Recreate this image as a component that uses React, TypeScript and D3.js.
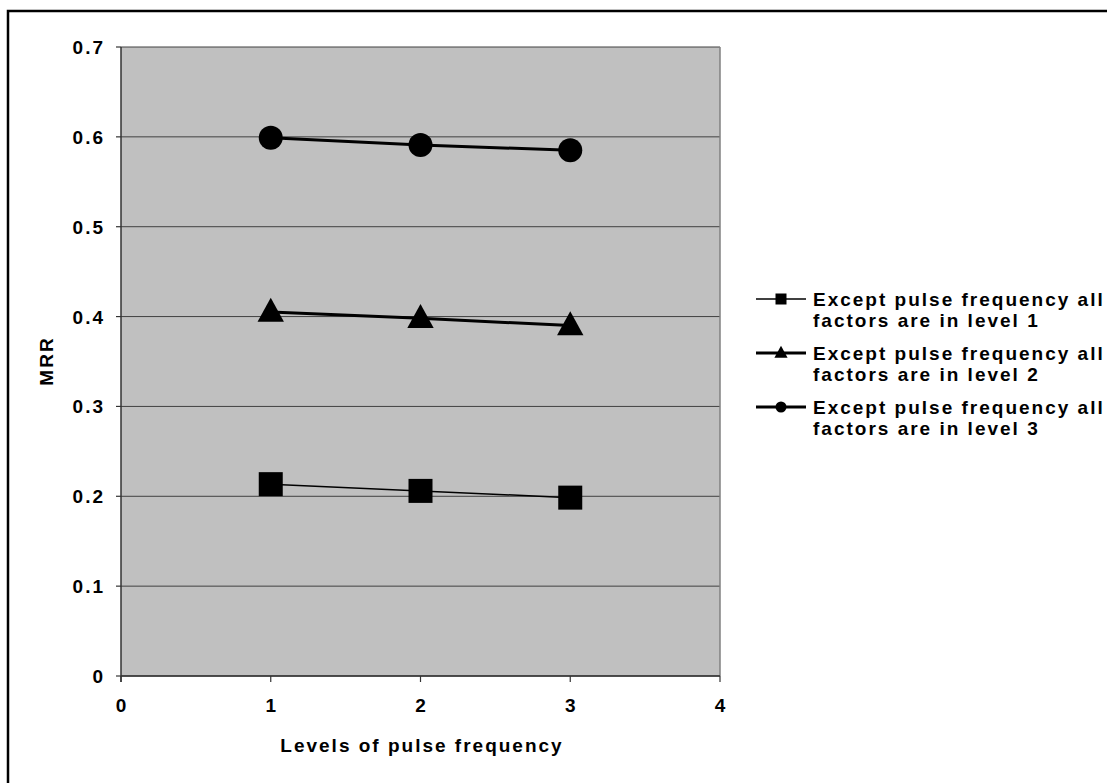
import React from "react";
import * as d3 from "d3";

const levels = [1, 2, 3];
const seriesLabels = [
  ["Except pulse frequency all", "factors are in level 1"],
  ["Except pulse frequency all", "factors are in level 2"],
  ["Except pulse frequency all", "factors are in level 3"],
];
const level1 = [0.2135, 0.206, 0.1985];
const level2 = [0.405, 0.398, 0.39];
const level3 = [0.599, 0.591, 0.585];
const yTicks = [0, 0.1, 0.2, 0.3, 0.4, 0.5, 0.6, 0.7];
const xTicks = [0, 1, 2, 3, 4];

const W = 1107;
const H = 783;
const plot = { left: 121, right: 720, top: 47, bottom: 676 };
const font = "'Liberation Sans', Arial, sans-serif";
const FS = 19;
const LS = 2;

function Marker({ kind, x, y, s }: { kind: string; x: number; y: number; s: number }) {
  if (kind === "square") return <rect x={x - s / 2} y={y - s / 2} width={s} height={s} fill="#000" />;
  if (kind === "circle") return <circle cx={x} cy={y} r={s / 2} fill="#000" />;
  const h = s;
  return (
    <path
      d={`M${x},${y - h * 0.6} L${x + s * 0.55},${y + h * 0.4} L${x - s * 0.55},${y + h * 0.4} Z`}
      fill="#000"
    />
  );
}

export default function App() {
  const x = d3.scaleLinear().domain([0, 4]).range([plot.left, plot.right]);
  const y = d3.scaleLinear().domain([0, 0.7]).range([plot.bottom, plot.top]);
  const line = d3
    .line<number>()
    .x((_, i) => x(levels[i]))
    .y((d) => y(d));

  const series = [
    { data: level1, kind: "square", width: 1.5, lsize: 11 },
    { data: level2, kind: "triangle", width: 3, lsize: 12 },
    { data: level3, kind: "circle", width: 3, lsize: 11 },
  ];
  const legendY = [299, 353, 407];
  const txt = { fontSize: FS, fontWeight: "bold" as const, letterSpacing: LS };

  return (
    <svg
      width={W}
      height={H}
      style={{ position: "absolute", left: 0, top: 0, background: "#fff" }}
      fontFamily={font}
    >
      <rect x={0} y={0} width={W} height={H} fill="#fff" />
      <rect x={8} y={11} width={W + 20} height={H + 20} fill="none" stroke="#000" strokeWidth={2.5} />
      <rect
        x={plot.left}
        y={plot.top}
        width={plot.right - plot.left}
        height={plot.bottom - plot.top}
        fill="#c0c0c0"
      />
      {yTicks.map((t) => (
        <line key={"g" + t} x1={plot.left} x2={plot.right} y1={y(t)} y2={y(t)} stroke="#404040" strokeWidth={1} />
      ))}
      <line x1={plot.right} x2={plot.right} y1={plot.top} y2={plot.bottom} stroke="#808080" strokeWidth={1.5} />
      <line x1={plot.left} x2={plot.left} y1={plot.top} y2={plot.bottom + 6} stroke="#333" strokeWidth={1.5} />
      <line x1={plot.left} x2={plot.right} y1={plot.bottom} y2={plot.bottom} stroke="#333" strokeWidth={1.5} />
      {yTicks.map((t) => (
        <g key={"yt" + t}>
          <line x1={plot.left - 5} x2={plot.left} y1={y(t)} y2={y(t)} stroke="#333" strokeWidth={1.2} />
          <text x={105} y={y(t) + 7} textAnchor="end" {...txt}>
            {d3.format("")(Math.round(t * 10) / 10)}
          </text>
        </g>
      ))}
      {xTicks.map((t) => (
        <g key={"xt" + t}>
          <line x1={x(t)} x2={x(t)} y1={plot.bottom} y2={plot.bottom + 6} stroke="#333" strokeWidth={1.2} />
          <text x={x(t) + 1} y={712} textAnchor="middle" {...txt}>
            {t}
          </text>
        </g>
      ))}
      <text x={422} y={752} textAnchor="middle" {...txt}>
        Levels of pulse frequency
      </text>
      <text transform={`translate(53,361) rotate(-90)`} textAnchor="middle" {...txt}>
        MRR
      </text>
      {series.map((s, si) => (
        <g key={"s" + si}>
          <path d={line(s.data) || ""} fill="none" stroke="#000" strokeWidth={s.width} />
          {s.data.map((v, i) => (
            <Marker key={i} kind={s.kind} x={x(levels[i])} y={y(v)} s={24} />
          ))}
        </g>
      ))}
      {series.map((s, si) => (
        <g key={"l" + si}>
          <line x1={756} x2={806} y1={legendY[si]} y2={legendY[si]} stroke="#000" strokeWidth={s.width} />
          <Marker kind={s.kind} x={781} y={legendY[si]} s={s.lsize} />
          <text x={813} y={legendY[si] + 7} {...txt}>
            {seriesLabels[si][0]}
          </text>
          <text x={813} y={legendY[si] + 28} {...txt}>
            {seriesLabels[si][1]}
          </text>
        </g>
      ))}
    </svg>
  );
}
